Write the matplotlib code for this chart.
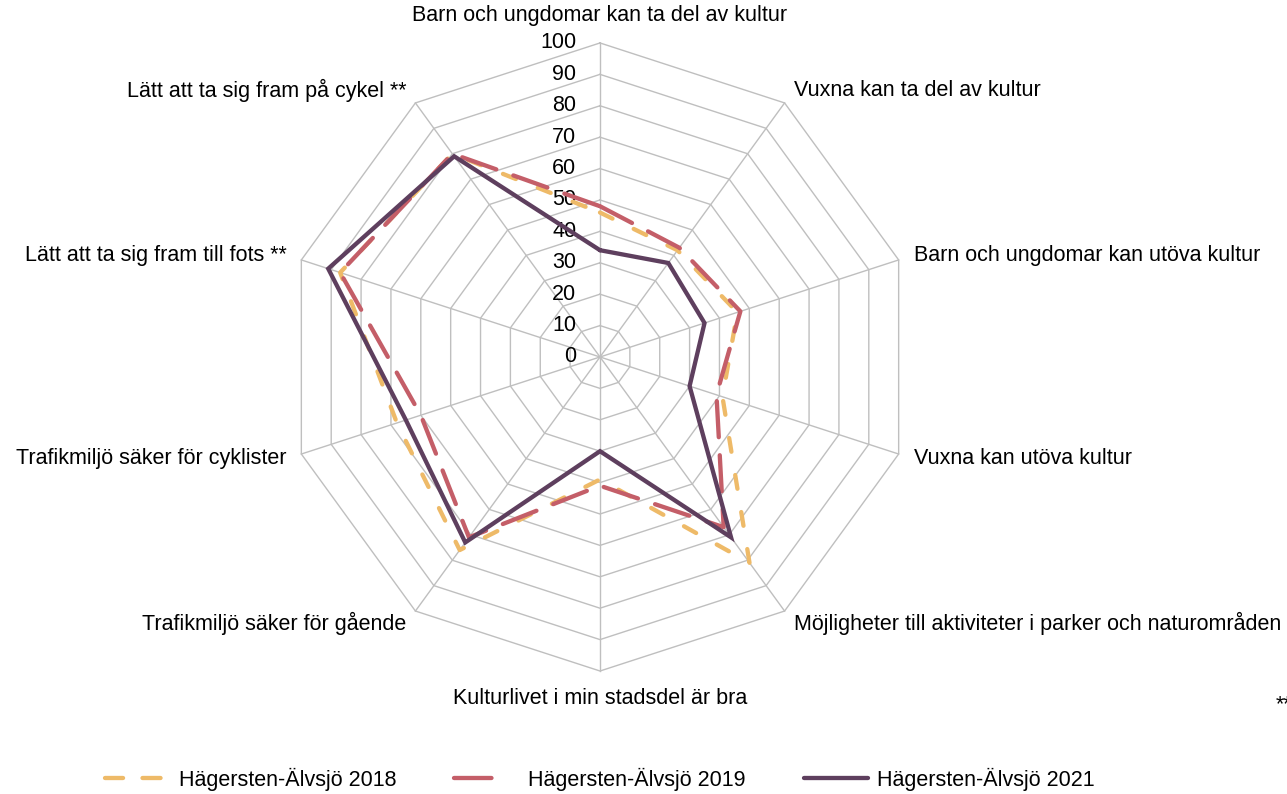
import numpy as np
import matplotlib
matplotlib.use('agg')
import matplotlib.pyplot as plt
from matplotlib.lines import Line2D

plt.rcParams['font.family'] = ['Liberation Sans', 'DejaVu Sans']
plt.rcParams['lines.scale_dashes'] = False

categories = [
    'Barn och ungdomar kan ta del av kultur',
    'Vuxna kan ta del av kultur',
    'Barn och ungdomar kan utöva kultur',
    'Vuxna kan utöva kultur',
    'Möjligheter till aktiviteter i parker och naturområden',
    'Kulturlivet i min stadsdel är bra',
    'Trafikmiljö säker för gående',
    'Trafikmiljö säker för cyklister',
    'Lätt att ta sig fram till fots **',
    'Lätt att ta sig fram på cykel **',
]
v2018 = [46, 42, 46, 41, 81, 39, 76, 68, 87, 80]
v2019 = [48, 43, 47, 39, 67, 41, 71, 60, 87, 80]
v2021 = [34, 37, 35, 30, 71, 30, 73, 65, 91, 79]
ticks = list(range(0, 101, 10))

# name, values, colour, line style in chart, line style in legend
series = [
    ('Hägersten-Älvsjö 2018', v2018, '#EEBA68', (0, (10, 17)), (0, (13, 14))),
    ('Hägersten-Älvsjö 2019', v2019, '#C45E68', (0, (26, 13)), (0, (27, 30))),
    ('Hägersten-Älvsjö 2021', v2021, '#5E3F5E', '-', '-'),
]

fig = plt.figure(figsize=(12.87, 7.94), dpi=100)
ax = fig.add_axes([0.2222, 0.1549, 0.488, 0.791], projection='polar')
ax.set_theta_zero_location('N')
ax.set_theta_direction(-1)
ax.set_ylim(0, 100)
ax.set_xticks([])
ax.set_yticks([])
ax.grid(False)
ax.spines['polar'].set_visible(False)

n = len(categories)
theta = np.arange(n) * 2 * np.pi / n
theta_c = np.append(theta, theta[0])

grid_col = '#BFBFBF'
for r in ticks[1:]:
    ax.plot(theta_c, [r] * (n + 1), color=grid_col, lw=1.0, clip_on=False, zorder=1)
for th in theta:
    ax.plot([th, th], [0, 100], color=grid_col, lw=1.0, clip_on=False, zorder=1)

for v in ticks:
    ax.annotate(str(v), xy=(0, v), xytext=(-17, 0), textcoords='offset points',
                ha='right', va='center', fontsize=15.5, color='black')

handles = []
for name, vals, col, ls, lls in series:
    ax.plot(theta_c, vals + vals[:1], color=col, lw=3.1, linestyle=ls,
            dash_capstyle='round', solid_capstyle='round',
            solid_joinstyle='miter', clip_on=False, zorder=3)
    handles.append(Line2D([], [], color=col, lw=3.1, linestyle=lls,
                          dash_capstyle='round', solid_capstyle='round', label=name))

for th, lab in zip(theta, categories):
    s = np.sin(th)
    if abs(s) < 1e-6:
        ax.text(th, 108.6, lab, ha='center', va='center', fontsize=15.5)
    elif s > 0:
        ax.text(th, 105, lab, ha='left', va='center', fontsize=15.5)
    else:
        ax.text(th, 105, lab, ha='right', va='center', fontsize=15.5)

fig.text(1276 / 1287, 1 - 705 / 794, '**', ha='left', va='center', fontsize=15.5)

fig.legend(handles=handles, loc='center', bbox_to_anchor=(600 / 1287, 1 - 779 / 794),
           ncol=3, frameon=False, fontsize=15.5, handlelength=2.97,
           handletextpad=0.45, columnspacing=2.7)

fig.savefig('out.png', dpi=100)
